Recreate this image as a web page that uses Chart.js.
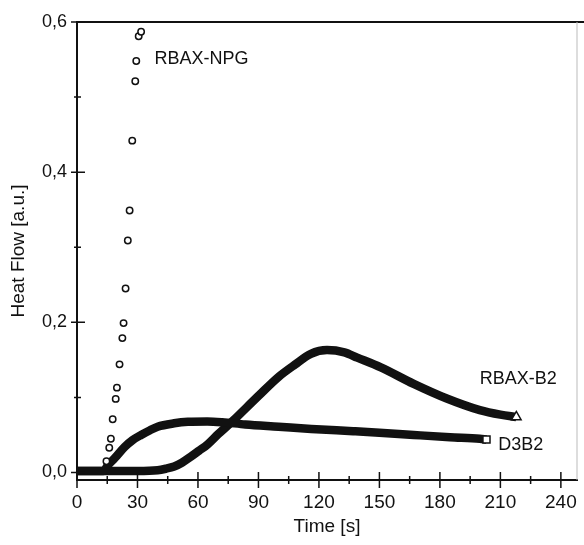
<!DOCTYPE html>
<html>
<head>
<meta charset="utf-8">
<script src="https://cdn.jsdelivr.net/npm/chart.js@4.4.0/dist/chart.umd.min.js"></script>
<style>
  html, body { margin: 0; padding: 0; background: #fff; }
  #wrap { width: 584px; height: 545px; }
</style>
</head>
<body>
<div id="wrap"><canvas id="heatChart" width="584" height="545"></canvas></div>
<script>
'use strict';

// RBAX-NPG (open circles)
var npgTime = [14.6, 16.0, 16.8, 17.7, 19.2, 19.8, 21.1, 22.5, 23.1, 24.1, 25.2, 26.1, 27.4, 28.9, 29.4, 30.6, 31.8];
var npgFlow = [0.015, 0.033, 0.045, 0.071, 0.098, 0.113, 0.144, 0.179, 0.199, 0.245, 0.309, 0.349, 0.442, 0.521, 0.548, 0.581, 0.587];

// RBAX-B2 (triangles)
var b2Time = [0, 15, 30, 40, 44, 48.2, 52, 56.4, 60.5, 64.6, 70, 77, 83.5, 90, 99.8, 108, 116, 124, 132.6, 139, 150.7, 167, 183.4, 199.8, 210, 217.9];
var b2Flow = [0.002, 0.002, 0.002, 0.003, 0.005, 0.008, 0.013, 0.021, 0.029, 0.037, 0.051, 0.068, 0.085, 0.102, 0.127, 0.1435, 0.158, 0.163, 0.160, 0.153, 0.140, 0.118, 0.0985, 0.083, 0.077, 0.074];

// D3B2 (squares)
var d3Time = [0, 13, 15.4, 18.7, 23.6, 27.5, 31.8, 36, 40, 48.2, 55, 64.6, 72, 83.5, 100, 116.2, 137, 150, 167, 185, 199.8, 203.1];
var d3Flow = [0.002, 0.002, 0.010, 0.019, 0.034, 0.043, 0.050, 0.056, 0.061, 0.0655, 0.0675, 0.068, 0.067, 0.064, 0.061, 0.058, 0.055, 0.053, 0.050, 0.047, 0.045, 0.044];

var xTicks = [0, 30, 60, 90, 120, 150, 180, 210, 240];
var xMinorTicks = [15, 45, 75, 105, 135, 165, 195, 225];
var yTicks = [0, 0.2, 0.4, 0.6];
var yMinorTicks = [0.1, 0.3, 0.5];

// curve names, placed in data units (left edge, vertical middle)
var curveNames = ['RBAX-NPG', 'RBAX-B2', 'D3B2'];
var nameTime = [38.4, 199.8, 208.9];
var nameFlow = [0.551, 0.124, 0.037];

var ink = '#111';
var fontFamily = '"Liberation Sans", Arial, sans-serif';

function toPoints(xs, ys) {
  var pts = [];
  for (var i = 0; i < xs.length; i++) pts.push({ x: xs[i], y: ys[i] });
  return pts;
}

function lastOnly(size) {
  return function (ctx) {
    return ctx.dataIndex === ctx.dataset.data.length - 1 ? size : 0;
  };
}

// frame, crossing tick marks and curve names
var framePlugin = {
  id: 'framePlugin',
  afterDraw: function (chart) {
    var c = chart.ctx;
    var area = chart.chartArea;
    var xs = chart.scales.x;
    var ys = chart.scales.y;
    c.save();

    c.strokeStyle = ink;
    c.lineWidth = 2;
    c.beginPath();
    c.moveTo(area.left, area.top);
    c.lineTo(chart.width, area.top);
    c.stroke();

    c.strokeStyle = '#bbb';
    c.lineWidth = 1;
    c.beginPath();
    c.moveTo(area.right, area.top);
    c.lineTo(area.right, area.bottom);
    c.stroke();

    c.strokeStyle = ink;
    c.lineWidth = 1.5;
    c.beginPath();
    xTicks.forEach(function (v) {
      var px = xs.getPixelForValue(v);
      c.moveTo(px, area.bottom - 8);
      c.lineTo(px, area.bottom + 8);
    });
    xMinorTicks.forEach(function (v) {
      var px = xs.getPixelForValue(v);
      c.moveTo(px, area.bottom - 4);
      c.lineTo(px, area.bottom + 4);
    });
    yTicks.forEach(function (v) {
      var py = ys.getPixelForValue(v);
      c.moveTo(area.left - 6, py);
      c.lineTo(area.left + 8, py);
    });
    yMinorTicks.forEach(function (v) {
      var py = ys.getPixelForValue(v);
      c.moveTo(area.left - 3, py);
      c.lineTo(area.left + 4, py);
    });
    c.stroke();

    c.fillStyle = ink;
    c.font = '18px ' + fontFamily;
    c.textAlign = 'left';
    c.textBaseline = 'middle';
    for (var i = 0; i < curveNames.length; i++) {
      c.fillText(curveNames[i], xs.getPixelForValue(nameTime[i]), ys.getPixelForValue(nameFlow[i]));
    }
    c.restore();
  }
};

var ctx = document.getElementById('heatChart');

var heatChart = new Chart(ctx, {
  type: 'scatter',
  data: {
    datasets: [
      {
        label: 'RBAX-NPG',
        data: toPoints(npgTime, npgFlow),
        showLine: false,
        pointStyle: 'circle',
        pointRadius: 3.2,
        borderWidth: 1.5,
        borderColor: ink,
        backgroundColor: '#fff'
      },
      {
        label: 'D3B2',
        data: toPoints(d3Time, d3Flow),
        showLine: true,
        cubicInterpolationMode: 'monotone',
        borderColor: ink,
        borderWidth: 8.5,
        pointStyle: 'rect',
        pointRadius: lastOnly(5),
        pointBorderWidth: 1.5,
        pointBorderColor: ink,
        pointBackgroundColor: '#fff'
      },
      {
        label: 'RBAX-B2',
        data: toPoints(b2Time, b2Flow),
        showLine: true,
        cubicInterpolationMode: 'monotone',
        borderColor: ink,
        borderWidth: 8.5,
        pointStyle: 'triangle',
        pointRadius: lastOnly(5.5),
        pointBorderWidth: 1.5,
        pointBorderColor: ink,
        pointBackgroundColor: '#fff'
      }
    ]
  },
  options: {
    responsive: false,
    animation: false,
    devicePixelRatio: 1,
    layout: { padding: { top: 22, right: 2, left: 0, bottom: 0 } },
    plugins: {
      legend: { display: false },
      tooltip: { enabled: false }
    },
    scales: {
      x: {
        type: 'linear',
        min: 0,
        max: 248,
        afterBuildTicks: function (scale) {
          scale.ticks = xTicks.map(function (v) { return { value: v }; });
        },
        afterFit: function (scale) {
          scale.height = 65;
          scale.paddingLeft = 0;
          scale.paddingRight = 0;
        },
        grid: { display: false, drawTicks: false },
        border: { display: true, color: ink, width: 2 },
        ticks: {
          color: ink,
          padding: 11,
          maxRotation: 0,
          font: { family: fontFamily, size: 19 },
          callback: function (v) { return String(v); }
        },
        title: {
          display: true,
          text: 'Time [s]',
          color: ink,
          font: { family: fontFamily, size: 19 },
          padding: { top: 0, bottom: 7 }
        }
      },
      y: {
        type: 'linear',
        min: -0.01,
        max: 0.6,
        afterBuildTicks: function (scale) {
          scale.ticks = yTicks.map(function (v) { return { value: v }; });
        },
        afterFit: function (scale) { scale.width = 77; },
        grid: { display: false, drawTicks: false },
        border: { display: true, color: ink, width: 2 },
        ticks: {
          color: ink,
          padding: 10,
          font: { family: fontFamily, size: 18 },
          callback: function (v) { return v.toFixed(1).replace('.', ','); }
        },
        title: {
          display: true,
          text: 'Heat Flow [a.u.]',
          color: ink,
          font: { family: fontFamily, size: 19 },
          padding: { top: 7, bottom: 0 }
        }
      }
    }
  },
  plugins: [framePlugin]
});
</script>
</body>
</html>
